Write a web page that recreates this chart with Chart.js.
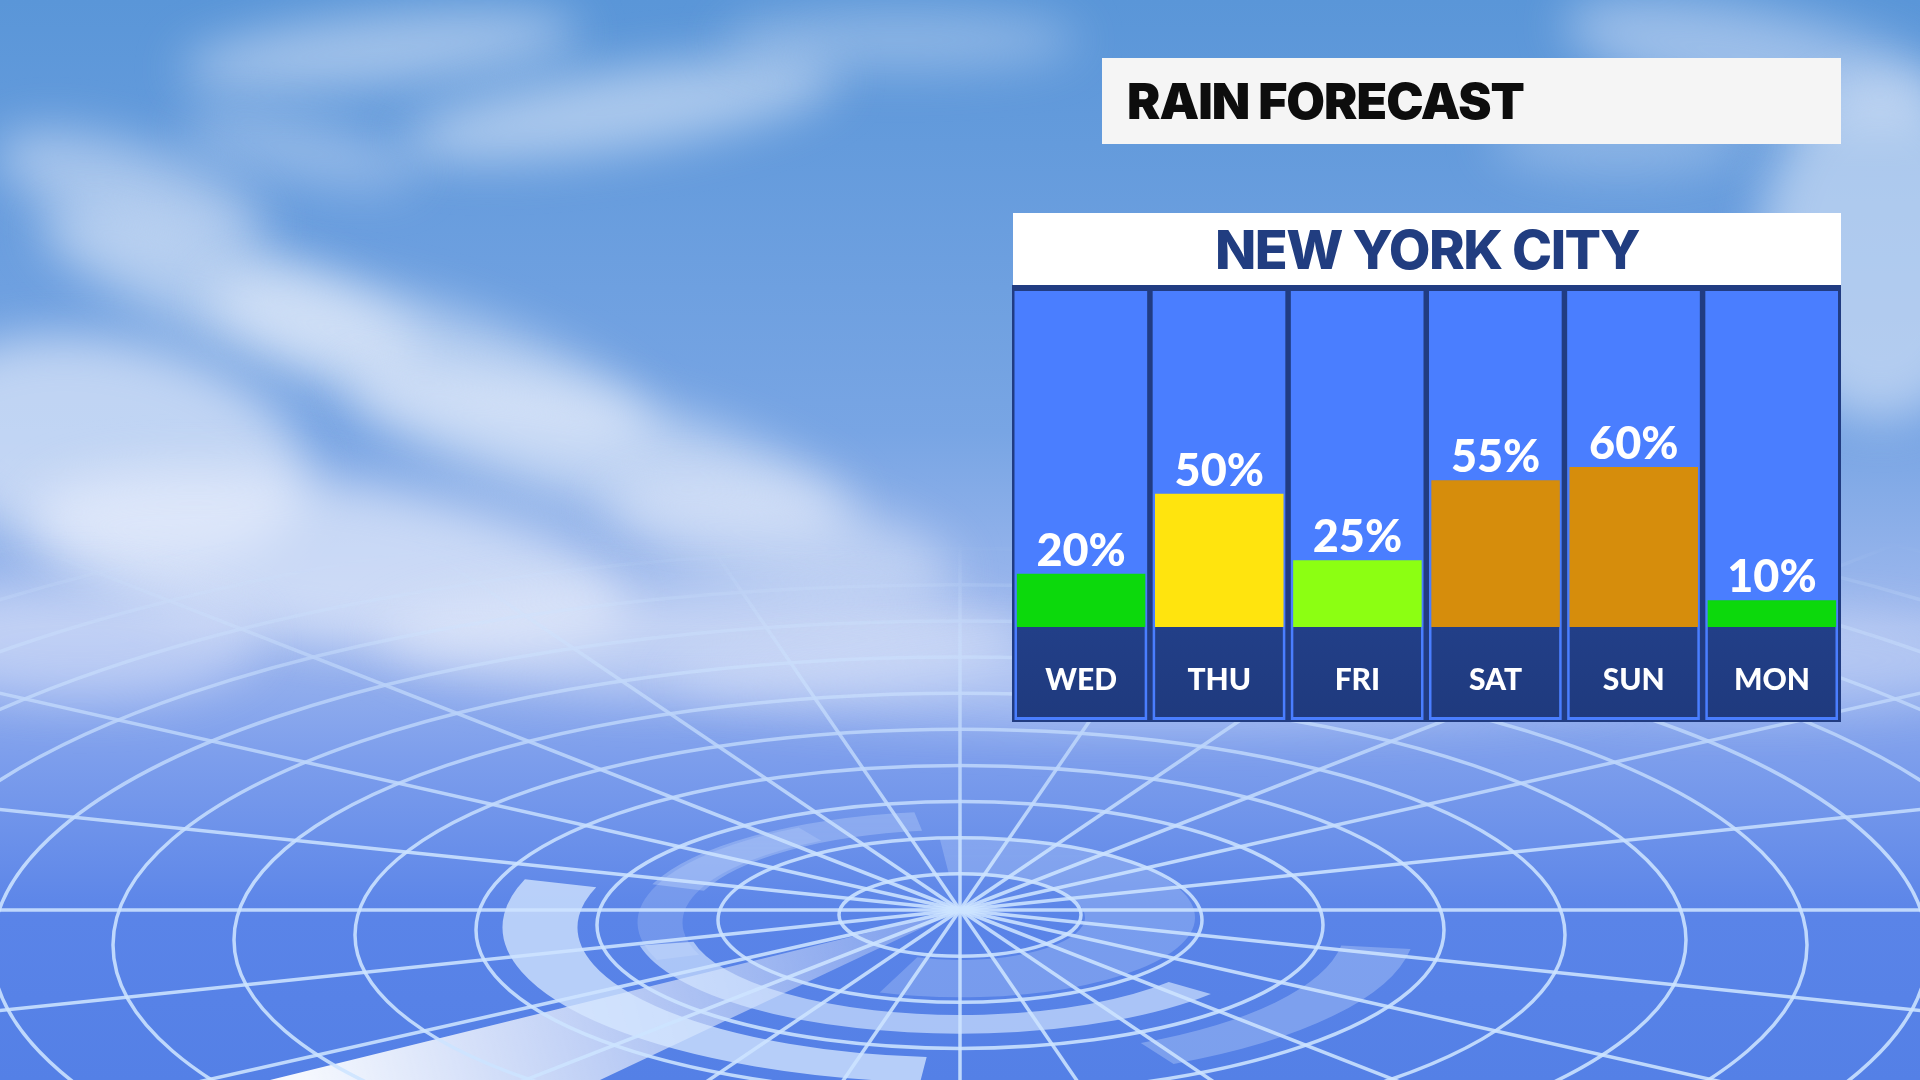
<!DOCTYPE html>
<html>
<head>
<meta charset="utf-8">
<script src="https://cdn.jsdelivr.net/npm/chart.js@4.4.1/dist/chart.umd.min.js"></script>
<style>
  html, body { margin: 0; padding: 0; width: 1920px; height: 1080px; overflow: hidden; }
  #sky { position: absolute; left: 0; top: 0; }
  #title {
    position: absolute; left: 1102px; top: 58px; width: 739px; height: 86px;
    background: #f5f5f5; box-sizing: border-box; padding-left: 25px;
    font-family: Inter, "Noto Sans", sans-serif; font-weight: 900; font-size: 50px;
    line-height: 86px; color: #0d0d0d; letter-spacing: -1px;
  }
  #city {
    position: absolute; left: 1013px; top: 213px; width: 828px; height: 72px;
    background: #ffffff; text-align: center;
    font-family: Inter, "Noto Sans", sans-serif; font-weight: 800; font-size: 54px;
    line-height: 74px; color: #213d80; letter-spacing: -1.5px;
  }
  #rain-chart { position: absolute; left: 1012px; top: 285px; background: #213c82; }
</style>
</head>
<body>
<canvas id="sky" width="1920" height="1080"></canvas>
<div id="title">RAIN FORECAST</div>
<div id="city">NEW YORK CITY</div>
<canvas id="rain-chart" width="829" height="437"></canvas>
<script>
const days = ['WED', 'THU', 'FRI', 'SAT', 'SUN', 'MON'];
const rainChance = [20, 50, 25, 55, 60, 10];
const barColors = ['#0cd90c', '#ffe40e', '#8cff12', '#d68d0c', '#d68d0c', '#0cd90c'];

// background: sky, clouds and the radar grid
function drawSky() {
  const c = document.getElementById('sky');
  const ctx = c.getContext('2d');
  const W = 1920, H = 1080;

  let g = ctx.createLinearGradient(0, 0, 0, H);
  g.addColorStop(0, '#5a96d8');
  g.addColorStop(0.4, '#78a5e4');
  g.addColorStop(0.58, '#a0b9ee');
  g.addColorStop(0.7, '#7d9eec');
  g.addColorStop(0.85, '#5a84e8');
  g.addColorStop(1, '#5480e6');
  ctx.fillStyle = g;
  ctx.fillRect(0, 0, W, H);

  // clouds
  const blobs = [
    [380, 50, 200, 35, 0.5, -0.1], [620, 110, 220, 40, 0.55, -0.15], [900, 40, 180, 30, 0.35, 0],
    [300, 150, 120, 30, 0.35, 0.2], [130, 190, 140, 45, 0.5, 0.3], [230, 290, 200, 50, 0.55, 0.35],
    [430, 360, 230, 55, 0.55, 0.3], [600, 450, 260, 55, 0.6, 0.25], [780, 540, 180, 50, 0.5, 0.2],
    [110, 450, 200, 110, 0.65, 0.2], [330, 560, 300, 80, 0.65, 0.15], [700, 640, 320, 55, 0.5, 0],
    [80, 640, 180, 60, 0.45, 0], [1760, 60, 200, 50, 0.45, 0.2], [1880, 250, 120, 170, 0.55, 0],
    [1620, 140, 130, 35, 0.3, 0], [1150, 680, 480, 45, 0.35, 0], [1750, 660, 260, 50, 0.35, 0]
  ];
  ctx.save();
  ctx.filter = 'blur(24px)';
  blobs.forEach(([x, y, rx, ry, a, rot]) => {
    ctx.fillStyle = 'rgba(232,238,252,' + a + ')';
    ctx.beginPath();
    ctx.ellipse(x, y, rx, ry, rot, 0, Math.PI * 2);
    ctx.fill();
  });
  ctx.restore();

  // radar grid on an offscreen layer, faded towards the horizon
  const r = document.createElement('canvas');
  r.width = W; r.height = H;
  const rc = r.getContext('2d');
  const cx = 960, cy = 910, k = 0.34, step = 121;

  let beam = rc.createLinearGradient(cx, cy, 300, H);
  beam.addColorStop(0, 'rgba(255,255,255,0.2)');
  beam.addColorStop(1, 'rgba(255,255,255,0.95)');
  rc.fillStyle = beam;
  rc.beginPath();
  rc.moveTo(cx, cy); rc.lineTo(270, H); rc.lineTo(600, H); rc.closePath();
  rc.fill();

  // light bands between rings (radius, start, end in degrees, width, alpha)
  const bands = [
    [180, 265, 470, 110, 0.25], [300, 200, 262, 55, 0.3], [300, 160, 240, 45, 0.2],
    [300, 40, 168, 55, 0.65], [420, 95, 198, 75, 0.75], [420, 8, 62, 70, 0.3]
  ];
  bands.forEach(([rad, a0, a1, lw, al]) => {
    rc.save();
    rc.translate(cx, cy + rad / step * 5);
    rc.scale(1, k);
    rc.strokeStyle = 'rgba(215,232,255,' + al + ')';
    rc.lineWidth = lw;
    rc.beginPath();
    rc.arc(0, 0, rad, a0 * Math.PI / 180, a1 * Math.PI / 180);
    rc.stroke();
    rc.restore();
  });

  rc.strokeStyle = 'rgba(205,228,255,0.88)';
  rc.lineWidth = 3.5;
  for (let i = 1; i <= 18; i++) {
    const rx = step * i;
    rc.beginPath();
    rc.ellipse(cx, cy + i * 5, rx, rx * k, 0, 0, Math.PI * 2);
    rc.stroke();
  }
  for (let a = 0; a < 360; a += 15) {
    const t = a * Math.PI / 180;
    rc.beginPath();
    rc.moveTo(cx, cy);
    rc.lineTo(cx + Math.cos(t) * 2600, cy + Math.sin(t) * 2600 * k * 1.15);
    rc.stroke();
  }
  rc.globalCompositeOperation = 'destination-in';
  let m = rc.createLinearGradient(0, 540, 0, 860);
  m.addColorStop(0, 'rgba(0,0,0,0)');
  m.addColorStop(0.45, 'rgba(0,0,0,0.65)');
  m.addColorStop(1, 'rgba(0,0,0,1)');
  rc.fillStyle = m;
  rc.fillRect(0, 0, W, H);
  ctx.drawImage(r, 0, 0);
}
drawSky();

// blue day columns and the navy label boxes behind the bars
const columnPanels = {
  id: 'columnPanels',
  beforeDraw(chart) {
    const { ctx, chartArea, scales: { x, y } } = chart;
    const step = x.width / days.length;
    const bottom = chart.height - 2;
    const y0 = y.getPixelForValue(0);
    ctx.save();
    days.forEach((d, i) => {
      const cx = x.getPixelForValue(i);
      ctx.fillStyle = '#4a7eff';
      ctx.fillRect(cx - step / 2 + 2.5, chartArea.top, step - 5.5, bottom - chartArea.top);
      const lg = ctx.createLinearGradient(0, y0, 0, bottom - 3);
      lg.addColorStop(0, '#223f88');
      lg.addColorStop(1, '#1f3a7e');
      ctx.fillStyle = lg;
      ctx.fillRect(cx - step / 2 + 5, y0, step - 10.5, bottom - 3 - y0);
    });
    ctx.restore();
  }
};

const percentLabels = {
  id: 'percentLabels',
  afterDatasetsDraw(chart) {
    const { ctx } = chart;
    const meta = chart.getDatasetMeta(0);
    ctx.save();
    ctx.fillStyle = '#ffffff';
    ctx.font = '900 45px Lato, "Open Sans", sans-serif';
    ctx.textAlign = 'center';
    ctx.textBaseline = 'alphabetic';
    meta.data.forEach((bar, i) => {
      ctx.fillText(rainChance[i] + '%', bar.x, bar.y - 8);
    });
    ctx.restore();
  }
};

const rainChart = new Chart(document.getElementById('rain-chart'), {
  type: 'bar',
  data: {
    labels: days,
    datasets: [{
      label: 'Rain chance',
      data: rainChance,
      backgroundColor: barColors,
      borderWidth: 0,
      barPercentage: 0.93,
      categoryPercentage: 1
    }]
  },
  options: {
    responsive: false,
    animation: false,
    devicePixelRatio: 1,
    layout: { padding: { top: 6, bottom: 2, left: 0, right: 0 } },
    plugins: {
      legend: { display: false },
      tooltip: { enabled: false }
    },
    scales: {
      y: { display: false, min: 0, max: 126 },
      x: {
        grid: { display: false },
        border: { display: false },
        ticks: {
          color: '#ffffff',
          padding: 27,
          font: { family: 'Lato, "Open Sans", sans-serif', size: 30, weight: '900' }
        },
        afterFit(scale) {
          scale.height = 93;
          scale.paddingLeft = 0;
          scale.paddingRight = 0;
        }
      }
    }
  },
  plugins: [columnPanels, percentLabels]
});
</script>
</body>
</html>
